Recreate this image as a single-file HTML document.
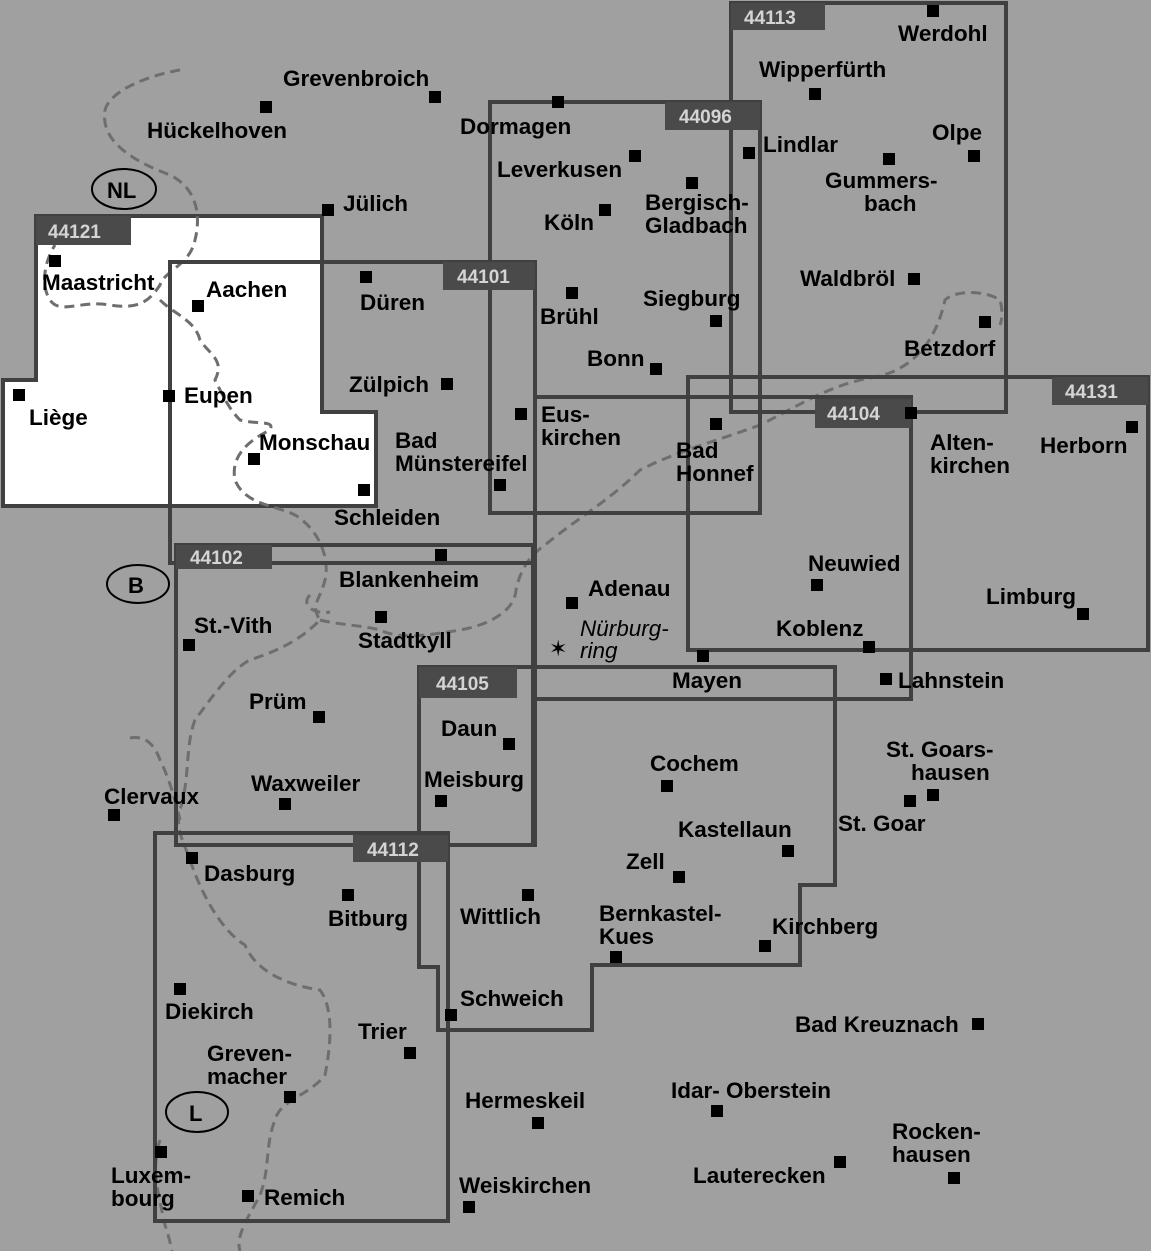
<!DOCTYPE html>
<html><head><meta charset="utf-8"><style>
html,body{margin:0;padding:0;background:#a0a0a0;}
svg{display:block}
text{font-family:"Liberation Sans",Arial,sans-serif;font-weight:bold;font-size:22.5px;fill:#000}
.b{font-size:19px;fill:#d4d4d4}
.i{font-style:italic;font-weight:normal}
</style></head><body>
<svg width="1151" height="1251" viewBox="0 0 1151 1251" xmlns="http://www.w3.org/2000/svg">
<rect width="1151" height="1251" fill="#a0a0a0"/>
<polygon points="36,216 322,216 322,412 376,412 376,506 3,506 3,380 36,380" fill="#fff" stroke="#404040" stroke-width="4"/>
<g fill="none" stroke="#6e6e6e" stroke-width="3" stroke-dasharray="10,6">
<path d="M180,70 C150,75 110,90 105,110 C100,140 130,160 170,175 C200,190 200,220 195,240 C190,265 165,270 160,285 C150,300 140,310 110,305 C80,300 60,315 50,300 C40,285 45,260 55,245"/>
<path d="M160,300 C175,315 195,320 200,340 C210,355 225,360 215,380 C225,400 230,410 240,420 C260,425 275,420 270,430 C250,440 230,455 235,480 C245,505 275,505 295,515 C320,530 330,560 325,580 C320,600 310,605 320,620 C300,640 280,650 250,660 C230,670 210,700 195,720 C185,745 190,780 180,810 C175,830 185,845 190,860 C200,890 220,930 245,945 C255,970 285,985 320,990 C335,1010 330,1050 325,1075 C310,1095 280,1100 275,1120 C265,1145 270,1170 260,1195 C250,1215 235,1235 240,1251"/>
<path d="M130,738 C145,735 155,745 160,760 C170,780 175,800 180,820"/>
<path d="M160,1140 C150,1170 160,1200 165,1225 C170,1240 172,1251 172,1251"/>
<path d="M320,620 C340,625 360,625 380,630 C400,640 430,635 460,630 C490,625 515,610 516,590 C520,570 530,555 545,545 C575,520 610,500 640,470 C680,450 720,440 760,425 C800,405 830,385 870,378 C910,372 935,345 945,300 C955,290 985,290 1000,300 C1003,310 1002,320 1000,325"/>
<path d="M310,595 C300,605 315,615 330,612"/>
</g>
<g fill="none" stroke="#404040" stroke-width="4">
<rect x="170" y="262" width="365" height="301"/>
<rect x="176" y="545" width="357" height="300"/>
<rect x="490" y="102" width="270" height="411"/>
<rect x="731" y="3" width="275" height="409"/>
<rect x="535" y="397" width="376" height="302"/>
<rect x="688" y="377" width="460" height="273"/>
<rect x="419" y="667" width="116" height="178"/>
<polygon points="419,667 835,667 835,885 800,885 800,965 592,965 592,1030 438,1030 438,967 419,967"/>
<rect x="155" y="833" width="293" height="388"/>
</g>
<g fill="#4a4a4a">
<rect x="36" y="216" width="95" height="29"/>
<rect x="443" y="262" width="92" height="28"/>
<rect x="176" y="545" width="96" height="24"/>
<rect x="665" y="102" width="95" height="28"/>
<rect x="731" y="3" width="94" height="27"/>
<rect x="815" y="399" width="96" height="29"/>
<rect x="1052" y="377" width="96" height="28"/>
<rect x="419" y="667" width="98" height="31"/>
<rect x="353" y="835" width="95" height="27"/>
</g>
<text class="b" x="48" y="238">44121</text>
<text class="b" x="457" y="283">44101</text>
<text class="b" x="190" y="564">44102</text>
<text class="b" x="679" y="123">44096</text>
<text class="b" x="744" y="24">44113</text>
<text class="b" x="827" y="420">44104</text>
<text class="b" x="1065" y="398">44131</text>
<text class="b" x="436" y="690">44105</text>
<text class="b" x="367" y="856">44112</text>
<g fill="none" stroke="#000" stroke-width="2">
<ellipse cx="124" cy="189" rx="32" ry="20"/>
<ellipse cx="138" cy="584" rx="31" ry="19"/>
<ellipse cx="197" cy="1112" rx="31" ry="20"/>
</g>
<text x="107" y="198" style="font-size:22px">NL</text>
<text x="128" y="593" style="font-size:22px">B</text>
<text x="189" y="1121" style="font-size:22px">L</text>
<g fill="#000">
<rect x="429" y="91" width="12" height="12"/><rect x="260" y="101" width="12" height="12"/><rect x="552" y="96" width="12" height="12"/>
<rect x="927" y="5" width="12" height="12"/><rect x="809" y="88" width="12" height="12"/><rect x="743" y="147" width="12" height="12"/>
<rect x="968" y="150" width="12" height="12"/><rect x="883" y="153" width="12" height="12"/><rect x="629" y="150" width="12" height="12"/>
<rect x="686" y="177" width="12" height="12"/><rect x="599" y="204" width="12" height="12"/><rect x="322" y="204" width="12" height="12"/>
<rect x="49" y="255" width="12" height="12"/><rect x="192" y="300" width="12" height="12"/><rect x="360" y="271" width="12" height="12"/>
<rect x="566" y="287" width="12" height="12"/><rect x="710" y="315" width="12" height="12"/><rect x="908" y="273" width="12" height="12"/>
<rect x="979" y="316" width="12" height="12"/><rect x="650" y="363" width="12" height="12"/><rect x="441" y="378" width="12" height="12"/>
<rect x="13" y="389" width="12" height="12"/><rect x="163" y="390" width="12" height="12"/><rect x="515" y="408" width="12" height="12"/>
<rect x="710" y="418" width="12" height="12"/><rect x="905" y="407" width="12" height="12"/><rect x="1126" y="421" width="12" height="12"/>
<rect x="494" y="479" width="12" height="12"/><rect x="248" y="453" width="12" height="12"/><rect x="358" y="484" width="12" height="12"/>
<rect x="435" y="549" width="12" height="12"/><rect x="566" y="597" width="12" height="12"/><rect x="811" y="579" width="12" height="12"/>
<rect x="1077" y="608" width="12" height="12"/><rect x="183" y="639" width="12" height="12"/><rect x="375" y="611" width="12" height="12"/>
<rect x="863" y="641" width="12" height="12"/><rect x="697" y="650" width="12" height="12"/><rect x="880" y="673" width="12" height="12"/>
<rect x="313" y="711" width="12" height="12"/><rect x="503" y="738" width="12" height="12"/><rect x="927" y="789" width="12" height="12"/>
<rect x="904" y="795" width="12" height="12"/><rect x="108" y="809" width="12" height="12"/><rect x="279" y="798" width="12" height="12"/>
<rect x="435" y="795" width="12" height="12"/><rect x="661" y="780" width="12" height="12"/><rect x="782" y="845" width="12" height="12"/>
<rect x="186" y="852" width="12" height="12"/><rect x="673" y="871" width="12" height="12"/><rect x="342" y="889" width="12" height="12"/>
<rect x="522" y="889" width="12" height="12"/><rect x="610" y="951" width="12" height="12"/><rect x="759" y="940" width="12" height="12"/>
<rect x="174" y="983" width="12" height="12"/><rect x="445" y="1009" width="12" height="12"/><rect x="972" y="1018" width="12" height="12"/>
<rect x="404" y="1047" width="12" height="12"/><rect x="284" y="1091" width="12" height="12"/><rect x="711" y="1105" width="12" height="12"/>
<rect x="532" y="1117" width="12" height="12"/><rect x="948" y="1172" width="12" height="12"/><rect x="155" y="1146" width="12" height="12"/>
<rect x="834" y="1156" width="12" height="12"/><rect x="242" y="1190" width="12" height="12"/><rect x="463" y="1201" width="12" height="12"/>
</g>
<text x="549" y="656" style="font-size:22px;font-weight:normal">✶</text>
<text x="283" y="86">Grevenbroich</text>
<text x="147" y="138">Hückelhoven</text>
<text x="460" y="134">Dormagen</text>
<text x="898" y="41">Werdohl</text>
<text x="759" y="77">Wipperfürth</text>
<text x="763" y="152">Lindlar</text>
<text x="932" y="140">Olpe</text>
<text x="825" y="188">Gummers-</text><text x="864" y="211">bach</text>
<text x="497" y="177">Leverkusen</text>
<text x="645" y="210">Bergisch-</text><text x="645" y="233">Gladbach</text>
<text x="544" y="230">Köln</text>
<text x="343" y="211">Jülich</text>
<text x="42" y="290">Maastricht</text>
<text x="206" y="297">Aachen</text>
<text x="360" y="310">Düren</text>
<text x="540" y="324">Brühl</text>
<text x="643" y="306">Siegburg</text>
<text x="800" y="286">Waldbröl</text>
<text x="904" y="356">Betzdorf</text>
<text x="587" y="366">Bonn</text>
<text x="349" y="392">Zülpich</text>
<text x="29" y="425">Liège</text>
<text x="184" y="403">Eupen</text>
<text x="541" y="422">Eus-</text><text x="541" y="445">kirchen</text>
<text x="676" y="458">Bad</text><text x="676" y="481">Honnef</text>
<text x="930" y="450">Alten-</text><text x="930" y="473">kirchen</text>
<text x="1040" y="453">Herborn</text>
<text x="395" y="448">Bad</text><text x="395" y="471">Münstereifel</text>
<text x="259" y="450">Monschau</text>
<text x="334" y="525">Schleiden</text>
<text x="339" y="587">Blankenheim</text>
<text x="588" y="596">Adenau</text>
<text x="808" y="571">Neuwied</text>
<text x="986" y="604">Limburg</text>
<text x="194" y="633">St.-Vith</text>
<text x="358" y="648">Stadtkyll</text>
<text class="i" x="580" y="636">Nürburg-</text><text class="i" x="580" y="658">ring</text>
<text x="776" y="636">Koblenz</text>
<text x="672" y="688">Mayen</text>
<text x="898" y="688">Lahnstein</text>
<text x="249" y="709">Prüm</text>
<text x="441" y="736">Daun</text>
<text x="886" y="757">St. Goars-</text><text x="911" y="780">hausen</text>
<text x="838" y="831">St. Goar</text>
<text x="104" y="804">Clervaux</text>
<text x="251" y="791">Waxweiler</text>
<text x="424" y="787">Meisburg</text>
<text x="650" y="771">Cochem</text>
<text x="678" y="837">Kastellaun</text>
<text x="204" y="881">Dasburg</text>
<text x="626" y="869">Zell</text>
<text x="328" y="926">Bitburg</text>
<text x="460" y="924">Wittlich</text>
<text x="599" y="921">Bernkastel-</text><text x="599" y="944">Kues</text>
<text x="772" y="934">Kirchberg</text>
<text x="165" y="1019">Diekirch</text>
<text x="460" y="1006">Schweich</text>
<text x="795" y="1032">Bad Kreuznach</text>
<text x="358" y="1039">Trier</text>
<text x="207" y="1061">Greven-</text><text x="207" y="1084">macher</text>
<text x="671" y="1098">Idar- Oberstein</text>
<text x="465" y="1108">Hermeskeil</text>
<text x="892" y="1139">Rocken-</text><text x="892" y="1162">hausen</text>
<text x="111" y="1183">Luxem-</text><text x="111" y="1206">bourg</text>
<text x="693" y="1183">Lauterecken</text>
<text x="264" y="1205">Remich</text>
<text x="459" y="1193">Weiskirchen</text>
</svg>
</body></html>
